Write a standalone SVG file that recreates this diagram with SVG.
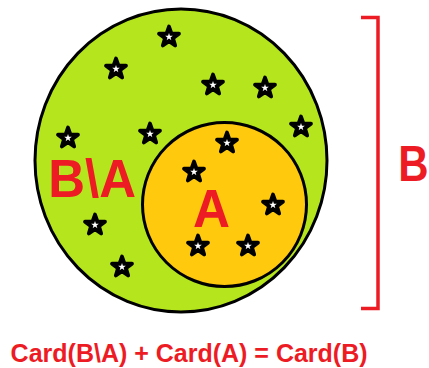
<svg xmlns="http://www.w3.org/2000/svg" xmlns:xlink="http://www.w3.org/1999/xlink" width="429" height="368" viewBox="0 0 429 368">
<style>
.set{stroke:#000;stroke-width:3}
.lbl{font-family:"Liberation Sans",Arial,sans-serif;font-weight:bold;fill:#ED1C24}
.brk{fill:none;stroke:#ED1C24;stroke-width:3.5;stroke-linejoin:miter}
</style>
<defs>
<g id="star">
<polygon points="0,-10.5 2.47,-3.4 9.99,-3.24 4,1.3 6.17,8.49 0,4.2 -6.17,8.49 -4,1.3 -9.99,-3.24 -2.47,-3.4" fill="#000" stroke="#000" stroke-width="3.8" stroke-linejoin="round"/>
<polygon points="0,-4 0.94,-1.29 3.8,-1.24 1.52,0.49 2.35,3.24 0,1.6 -2.35,3.24 -1.52,0.49 -3.8,-1.24 -0.94,-1.29" fill="#fff"/>
</g>
</defs>
<rect width="429" height="368" fill="#fff"/>
<g id="setB">
<ellipse class="set" cx="181" cy="160.5" rx="146" ry="151.5" fill="#B5E61D"/>
</g>
<g id="setA">
<circle class="set" cx="224.5" cy="204.5" r="82" fill="#FFC90E"/>
</g>
<g id="stars">
<use xlink:href="#star" x="169" y="37"/>
<use xlink:href="#star" x="116" y="69"/>
<use xlink:href="#star" x="213" y="85"/>
<use xlink:href="#star" x="265" y="88"/>
<use xlink:href="#star" x="301" y="127"/>
<use xlink:href="#star" x="68" y="138"/>
<use xlink:href="#star" x="150" y="134"/>
<use xlink:href="#star" x="227" y="143"/>
<use xlink:href="#star" x="194" y="172"/>
<use xlink:href="#star" x="273" y="205"/>
<use xlink:href="#star" x="95" y="225"/>
<use xlink:href="#star" x="198" y="246"/>
<use xlink:href="#star" x="248" y="246"/>
<use xlink:href="#star" x="122" y="267"/>
</g>
<g id="connectors">
<polyline class="brk" points="361,17.5 378,17.5 378,308.5 361,308.5"/>
</g>
<g id="labels">
<text class="lbl" font-size="54" transform="translate(48.3,196.5) scale(0.944,1)">B\A</text>
<text class="lbl" font-size="54" transform="translate(193,227) scale(0.95,1)">A</text>
<text class="lbl" font-size="50" transform="translate(398.3,181) scale(0.84,1)">B</text>
<text class="lbl" font-size="25" x="10.6" y="362">Card(B\A) + Card(A) = Card(B)</text>
</g>
</svg>
